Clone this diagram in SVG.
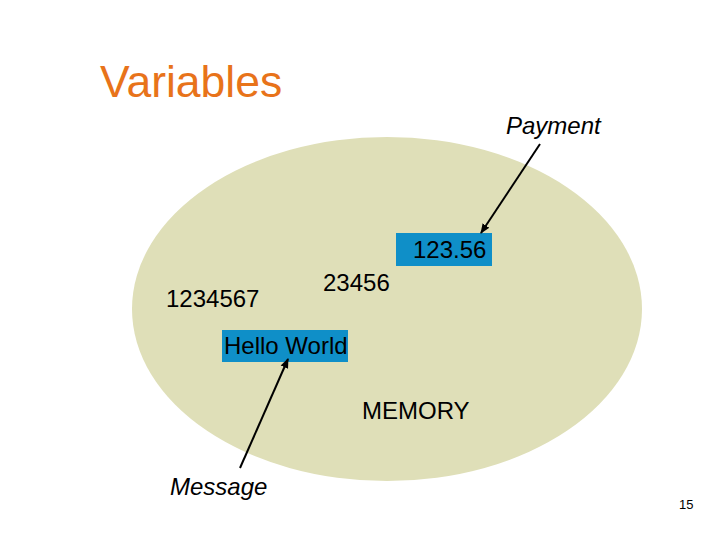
<svg xmlns="http://www.w3.org/2000/svg" width="720" height="540" viewBox="0 0 720 540">
<defs>
<style>
text{font-family:"Liberation Sans",Arial,sans-serif;fill:#000}
.v{font-size:24px}
.i{font-style:italic;font-size:24px}
.box{fill:#0f8fc8}
.c{stroke:#000;stroke-width:2;fill:none;marker-end:url(#ah)}
</style>
<marker id="ah" viewBox="0 0 10 10" refX="9" refY="5" markerWidth="5" markerHeight="5" orient="auto"><path d="M0,1 L10,5 L0,9 z" fill="#000"/></marker>
</defs>
<rect width="720" height="540" fill="#fff"/>
<text x="100" y="97" style="font-size:44.5px;fill:#e8731a">Variables</text>
<g id="memory"><ellipse cx="387" cy="309" rx="255" ry="172" fill="#dfdfb8"/><text class="v" x="362" y="419">MEMORY</text></g>
<g id="payment-label"><text class="i" x="506" y="134">Payment</text></g>
<g id="payment-value"><rect class="box" x="396" y="233" width="96" height="33"/><text class="v" x="413" y="258">123.56</text></g>
<g id="n1234567"><text class="v" x="166" y="307">1234567</text></g>
<g id="n23456"><text class="v" x="323" y="291">23456</text></g>
<g id="hello"><rect class="box" x="222" y="330" width="126" height="32"/><text class="v" x="224" y="354">Hello World</text></g>
<g id="message-label"><text class="i" x="170" y="495">Message</text></g>
<g id="connectors">
<line class="c" x1="540" y1="144" x2="481" y2="233"/>
<line class="c" x1="240" y1="468" x2="288" y2="359"/>
</g>
<text x="679" y="509" style="font-size:13px">15</text>
</svg>
